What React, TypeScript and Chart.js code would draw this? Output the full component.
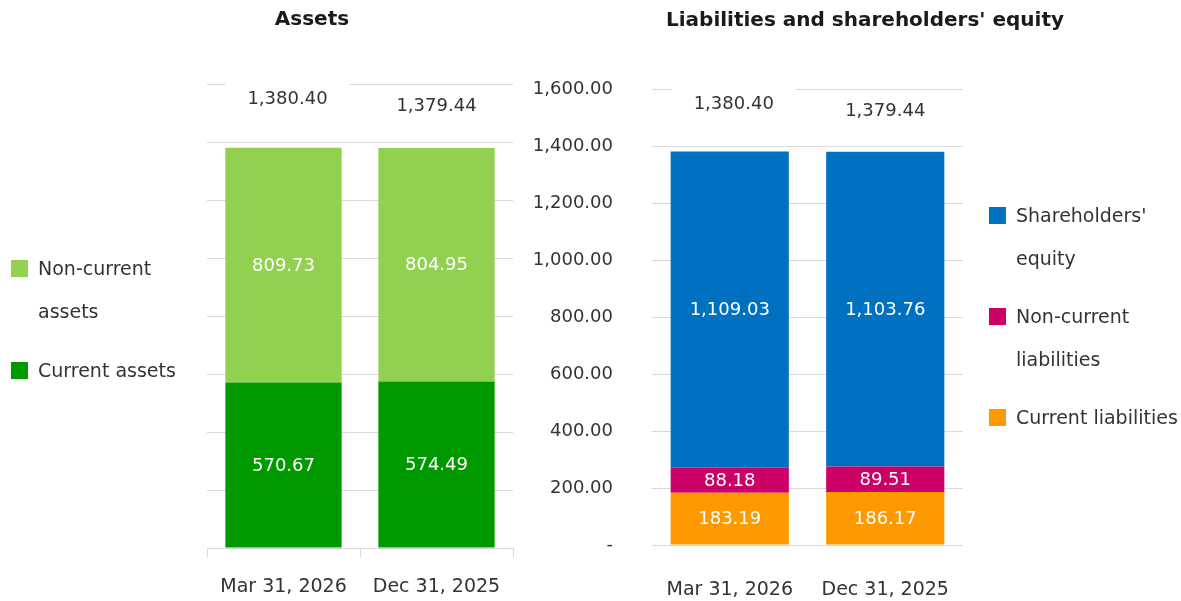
import React, { useEffect, useRef } from "react";
import { Chart, registerables } from "chart.js";

Chart.register(...registerables);

const categories = ["Mar 31, 2026", "Dec 31, 2025"];

const currentAssets = [570.67, 574.49];
const nonCurrentAssets = [809.73, 804.95];
const totalAssets = [1380.4, 1379.44];

const currentLiabilities = [183.19, 186.17];
const nonCurrentLiabilities = [88.18, 89.51];
const shareholdersEquity = [1109.03, 1103.76];
const totalLiabEquity = [1380.4, 1379.44];

const yMin = 0;
const yMax = 1600;
const yStep = 200;

const FONT = '"DejaVu Sans", sans-serif';
const TEXT = "#333333";
const GRID = "#d9d9d9";

const fmt = (v: number) =>
  v.toLocaleString("en-US", { minimumFractionDigits: 2, maximumFractionDigits: 2 });

const valueLabels = {
  id: "valueLabels",
  afterDatasetsDraw(chart: any, _args: any, opts: any) {
    const ctx = chart.ctx;
    ctx.save();
    ctx.font = `18px ${FONT}`;
    ctx.textAlign = "center";
    ctx.textBaseline = "middle";
    chart.data.datasets.forEach((ds: any, di: number) => {
      const meta = chart.getDatasetMeta(di);
      meta.data.forEach((bar: any, i: number) => {
        const p = bar.getCenterPoint();
        ctx.fillStyle = "#ffffff";
        ctx.fillText(fmt(ds.data[i]), p.x, p.y + 1);
      });
    });
    const totals: number[] = opts.totals || [];
    const meta0 = chart.getDatasetMeta(0);
    totals.forEach((t, i) => {
      const x = meta0.data[i].x + (i === 0 ? 4 : 0);
      const y = chart.chartArea.top + 15 + 7 * i;
      ctx.fillStyle = "#ffffff";
      ctx.fillRect(x - 62, y - 18, 124, 36);
      ctx.fillStyle = TEXT;
      ctx.fillText(fmt(t), x, y);
    });
    ctx.restore();
  },
};

type DS = { label: string; data: number[]; color: string };

const assetSets: DS[] = [
  { label: "Current assets", data: currentAssets, color: "#009900" },
  { label: "Non-current assets", data: nonCurrentAssets, color: "#92d050" },
];
const liabSets: DS[] = [
  { label: "Current liabilities", data: currentLiabilities, color: "#ff9900" },
  { label: "Non-current liabilities", data: nonCurrentLiabilities, color: "#cc0066" },
  { label: "Shareholders' equity", data: shareholdersEquity, color: "#0070c0" },
];

function makeConfig(sets: DS[], totals: number[], left: boolean): any {
  return {
    type: "bar",
    data: {
      labels: categories,
      datasets: sets.map((s) => ({
        label: s.label,
        data: s.data,
        backgroundColor: s.color,
        borderWidth: 0,
        categoryPercentage: 0.76,
        barPercentage: 1,
      })),
    },
    plugins: [valueLabels],
    options: {
      responsive: false,
      animation: false,
      events: [],
      layout: left
        ? { padding: { left: 207, right: 7, top: 84, bottom: 0 } }
        : { padding: { left: 0, right: 218, top: 89, bottom: 0 } },
      plugins: {
        legend: { display: false },
        title: { display: false },
        tooltip: { enabled: false },
        valueLabels: { totals },
      },
      scales: {
        x: {
          stacked: true,
          offset: true,
          grid: left
            ? {
                display: true,
                drawOnChartArea: false,
                drawTicks: true,
                tickLength: 9,
                color: GRID,
                offset: true,
              }
            : { display: false },
          border: { display: false },
          ticks: {
            color: TEXT,
            font: { family: FONT, size: 19 },
            padding: left ? 19 : 26,
            maxRotation: 0,
          },
          afterFit: (s: any) => {
            s.height = left ? 601 - 548 : 601 - 545;
            s.paddingLeft = 0;
            s.paddingRight = 0;
          },
        },
        y: {
          stacked: true,
          min: yMin,
          max: yMax,
          grid: { color: GRID, drawTicks: false, lineWidth: 1 },
          border: { display: false },
          ticks: {
            display: !left,
            stepSize: yStep,
            color: TEXT,
            font: { family: FONT, size: 18 },
            padding: 39,
            callback: (v: number) => (v === 0 ? "-" : fmt(v)),
          },
          afterFit: (s: any) => {
            s.width = left ? 0 : 132;
            s.paddingTop = 0;
            s.paddingBottom = 0;
          },
        },
      },
    },
  };
}

function Legend({ sets, left, top, width, gap }: { sets: DS[]; left: number; top: number; width: number; gap: number }) {
  const items = [...sets].reverse();
  return (
    <div style={{ position: "absolute", left, top }}>
      {items.map((s) => (
        <div key={s.label} style={{ display: "flex", alignItems: "flex-start", marginBottom: gap }}>
          <div
            style={{
              width: 17,
              height: 17,
              marginTop: 13,
              background: s.color,
              flex: "0 0 auto",
            }}
          />
          <div
            style={{
              marginLeft: 10,
              width,
              lineHeight: "43px",
              fontSize: 19,
              color: TEXT,
              fontFamily: FONT,
            }}
          >
            {s.label}
          </div>
        </div>
      ))}
    </div>
  );
}

export default function App() {
  const leftRef = useRef<HTMLCanvasElement | null>(null);
  const rightRef = useRef<HTMLCanvasElement | null>(null);

  useEffect(() => {
    const c1 = new Chart(leftRef.current as HTMLCanvasElement, makeConfig(assetSets, totalAssets, true));
    const c2 = new Chart(rightRef.current as HTMLCanvasElement, makeConfig(liabSets, totalLiabEquity, false));
    return () => {
      c1.destroy();
      c2.destroy();
    };
  }, []);

  const titleStyle: React.CSSProperties = {
    position: "absolute",
    transform: "translate(-50%, -50%)",
    fontFamily: FONT,
    fontWeight: "bold",
    fontSize: 20,
    color: "#1a1a1a",
    whiteSpace: "nowrap",
  };

  return (
    <div
      style={{
        position: "absolute",
        left: 0,
        top: 0,
        width: 1181,
        height: 601,
        background: "#ffffff",
        overflow: "hidden",
        fontFamily: FONT,
      }}
    >
      <canvas
        ref={leftRef}
        width={520}
        height={601}
        style={{ position: "absolute", left: 0, top: 0, width: 520, height: 601 }}
      />
      <canvas
        ref={rightRef}
        width={661}
        height={601}
        style={{ position: "absolute", left: 520, top: 0, width: 661, height: 601 }}
      />
      <div style={{ ...titleStyle, left: 312, top: 18 }}>Assets</div>
      <div style={{ ...titleStyle, left: 865, top: 19 }}>Liabilities and shareholders' equity</div>
      <Legend sets={assetSets} left={11} top={247} width={150} gap={16} />
      <Legend sets={liabSets} left={989} top={194} width={172} gap={15} />
    </div>
  );
}
